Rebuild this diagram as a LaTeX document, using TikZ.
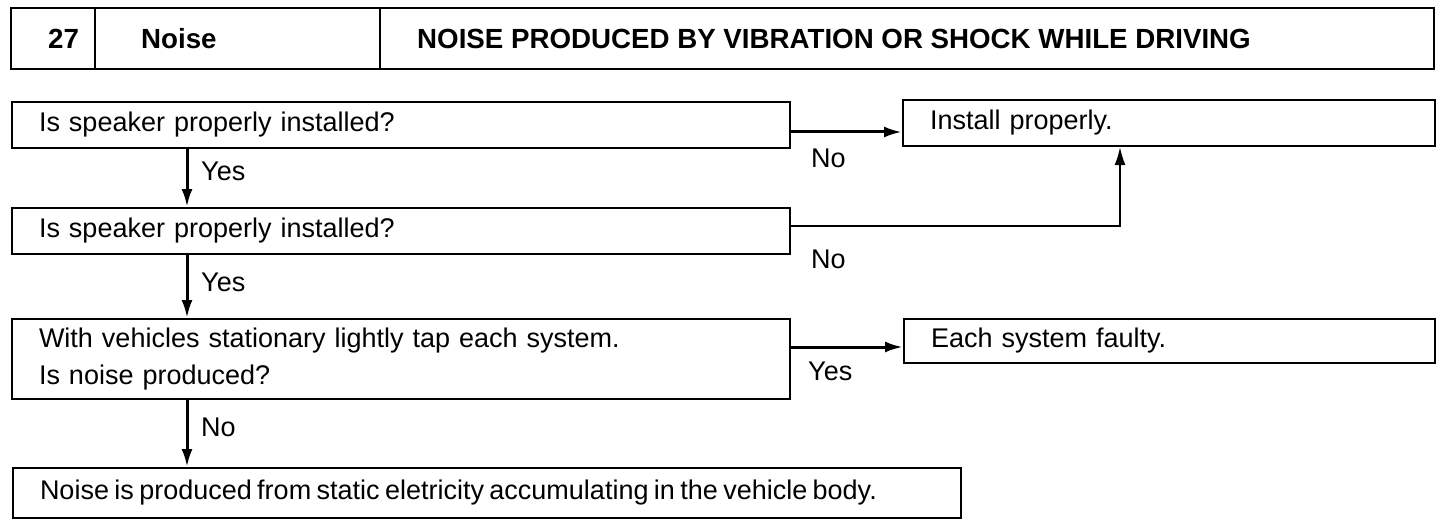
\documentclass[tikz,border=0pt]{standalone}
\usepackage{fontspec}
\setmainfont{Liberation Sans}
\usetikzlibrary{arrows.meta}

\begin{document}
\begin{tikzpicture}[x=1pt,y=-1pt,
  box/.style={draw,line width=2pt,anchor=north west,align=left,inner xsep=27pt,inner ysep=0pt,font=\fontsize{27}{37}\selectfont},
  head/.style={anchor=west,inner sep=0pt,font=\fontsize{27.7}{32}\selectfont\bfseries},
  lbl/.style={anchor=west,inner sep=0pt,font=\fontsize{27}{32}\selectfont},
  arr/.style={line width=3pt,-{Latex[length=18pt,width=11pt]}}]
  \useasboundingbox (0,0) rectangle (1456,524);
  % title bar
  \foreach \xa/\xb/\inset/\txt [count=\i] in {11/95/37/27, 95/380/46/Noise, 380/1434/37/NOISE PRODUCED BY VIBRATION OR SHOCK WHILE DRIVING} {
    \draw[line width=2pt] (\xa,8) rectangle (\xb,69);
    \node[head] (h\i) at (\xa+\inset,39) {\txt};
  };
  % checks
  \node[box,text width=724pt,minimum height=46pt] (q1) at (11,101) {Is speaker properly installed?};
  \node[box,text width=724pt,minimum height=46pt] (q2) at (11,207) {Is speaker properly installed?};
  \node[box,text width=724pt,minimum height=80pt] (q3) at (11,318) {With vehicles stationary lightly tap each system.\\Is noise produced?};
  \node[box,text width=894pt,minimum height=50pt] (res) at (12,467) {\spaceskip=0.2em Noise is produced from static eletricity accumulating in the vehicle body.};
  \node[box,text width=478pt,minimum height=46pt] (inst) at (902,99) {Install properly.};
  \node[box,text width=477pt,minimum height=44pt] (sys) at (903,318) {Each system faulty.};
  \coordinate (spine) at (187,0);
  \coordinate (up) at (1120,0);
  % connectors
  \draw[arr] (q1.south -| spine) -- (q2.north -| spine);
  \draw[arr] (q2.south -| spine) -- (q3.north -| spine);
  \draw[arr] (q3.south -| spine) -- (res.north -| spine);
  \draw[arr] ([yshift=-7pt]q1.east) -- ([yshift=-7pt]q1.east -| inst.west);
  \draw[arr,line width=2pt] ([yshift=5pt]q2.east) -| (inst.south -| up);
  \draw[arr] ([yshift=-6pt]sys.west -| q3.east) -- ([yshift=-6pt]sys.west);
  \node[lbl] (y1) at (201,171) {Yes};
  \node[lbl] (y2) at (201,282) {Yes};
  \node[lbl] (n1) at (811,158) {No};
  \node[lbl] (n2) at (811,259) {No};
  \node[lbl] (y3) at (808,371) {Yes};
  \node[lbl] (n3) at (201,427) {No};
\end{tikzpicture}
\end{document}
